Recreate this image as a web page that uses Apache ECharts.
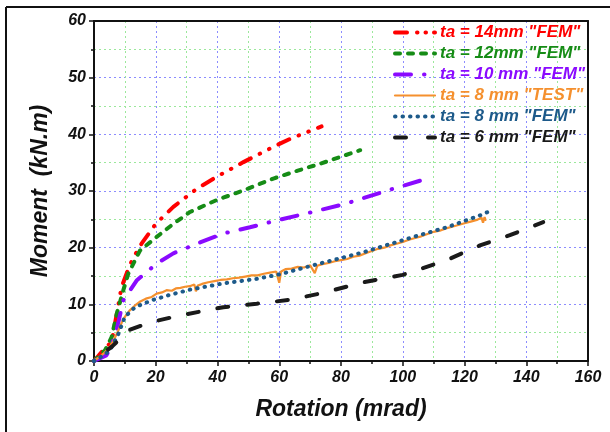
<!DOCTYPE html>
<html>
<head>
<meta charset="utf-8">
<script src="https://cdn.jsdelivr.net/npm/echarts@6/dist/echarts.min.js"></script>
<style>
  html, body { margin: 0; padding: 0; background: #fff; }
  #chart { width: 610px; height: 432px; }
</style>
</head>
<body>
<div id="chart"></div>
<script>
// data: [rotation (mrad), moment (kN.m)]
const ta14Fem = [[0,0],[3,1.9],[5.7,3.4],[7.4,8.4],[8.9,13],[10.6,15.5],[12.5,18],[15.4,20.7],[20,24.2],[25.7,27.2],[33.3,30.4],[39.7,32.5],[48.4,35.1],[58.1,37.8],[63.5,39.2],[73.7,41.4]];
const ta12Fem = [[0,0],[3.6,1.9],[5.7,4.2],[7.4,8.4],[9.5,12.5],[11.1,15.4],[14.9,19.5],[20.3,21.9],[25.7,24.2],[31.1,26.3],[39.7,28.4],[48.4,30.1],[58.1,32.2],[66,33.6],[73.2,34.8],[86.2,37.2]];
const ta10Fem = [[0,0],[4,1],[5.5,2.5],[7.3,5.4],[9.5,10.7],[13.8,14.2],[20.3,17.2],[25.7,19],[33.3,20.7],[41.9,22.5],[50.5,23.6],[59.2,24.8],[70,26.2],[81.8,27.8],[96.9,30.4],[106.7,32]];
const ta8Test = [[0,0],[2,0.8],[4,1.8],[5.2,2.5],[6.5,3.8],[7.9,5.4],[9,6.8],[10,7.8],[11.5,8.9],[13.3,9.8],[15,10.5],[16.8,11],[18.7,11.3],[20.3,11.9],[22,12.1],[23.5,12.5],[25.2,12.4],[26.5,12.8],[28,12.9],[29.5,13.1],[31,13.2],[32.5,13.5],[33,12.3],[33.6,13.3],[35,13.6],[37,13.9],[39,14.1],[41,14.3],[43,14.4],[45,14.6],[47,14.7],[49,14.9],[51,15.1],[53,15.1],[55,15.4],[57,15.6],[59,15.8],[60,13.8],[60.6,15.8],[62,16.2],[64,16.3],[66,16.6],[68,16.5],[70,16.9],[71.5,15.5],[72.3,16.8],[74,17.1],[76,17.3],[78,17.6],[80,17.8],[82,18],[84,18.4],[86,18.6],[88,19],[90,19.4],[92,19.8],[94,20],[96,20.4],[98,20.7],[100,21],[102,21.4],[104,21.7],[106,22],[108,22.4],[110,22.8],[112,23],[114,23.4],[116,23.7],[118,24],[120,24.3],[122,24.6],[124,24.9],[125.5,25.3],[126,24.4],[126.5,25.4],[126.8,24.9]];
const ta8Fem = [[0,0],[3,1],[5.2,1.9],[7.9,4.8],[10,7.8],[13.3,9.5],[18.7,10.7],[24.1,11.6],[31.1,12.6],[41.9,13.7],[52.7,14.5],[60.2,15.3],[71,16.9],[87.3,19.2],[103.5,21.9],[114.3,23.6],[125,25.7],[128,26.4]];
const ta6Fem = [[0,0],[1.4,0.7],[5.7,2.5],[9,4.2],[11.1,5.4],[18.7,6.9],[28.4,8.1],[41.9,9.5],[52.7,10.1],[63.5,10.8],[73.2,11.9],[87.3,13.9],[100,15.2],[114.2,17.8],[125,20.4],[134.7,22.2],[145.5,24.5]];

const seriesNames = ['ta = 14mm "FEM"', 'ta = 12mm "FEM"', 'ta = 10 mm "FEM"', 'ta = 8 mm "TEST"', 'ta = 8 mm "FEM"', 'ta = 6 mm "FEM"'];
const seriesData = [ta14Fem, ta12Fem, ta10Fem, ta8Test, ta8Fem, ta6Fem];
const seriesColors = ['#ff0000', '#168c16', '#8a0aff', '#f5902e', '#1d5a8a', '#1a1a1a'];
const seriesDash = [[12, 10, 0.5, 10, 0.5, 10], [5, 8], [16, 13, 0.5, 13], 'solid', [0.5, 7], [11, 19]];
const seriesDashOffset = [0, 0, 0, 0, 0, 12];
const legendDash = [[12, 10, 0.5, 8, 0.5, 8], [5, 8], [16, 13, 0.5, 13], 'solid', [0.5, 7], [11, 22]];
const seriesWidth = [4, 4, 4, 2.2, 4, 4];

const font = 'Arial, "Liberation Sans", sans-serif';

const chart = echarts.init(document.getElementById('chart'));

const series = seriesNames.map((name, i) => ({
  name,
  type: 'line',
  data: seriesData[i],
  symbol: 'none',
  lineStyle: {
    color: seriesColors[i],
    width: seriesWidth[i],
    type: seriesDash[i],
    dashOffset: seriesDashOffset[i],
    cap: 'round'
  },
  itemStyle: { color: seriesColors[i] }
}));

const labelStyle = { fontFamily: font, fontWeight: 'bold', fontStyle: 'italic', fontSize: 16, color: '#111' };
const nameStyle = { fontFamily: font, fontWeight: 'bold', fontStyle: 'italic', fontSize: 23, color: '#111' };
const frameLine = { show: true, onZero: false, lineStyle: { color: '#111', width: 2 } };
const dotted = (c) => ({ show: true, lineStyle: { color: c, width: 1, type: [2, 3] } });

chart.setOption({
  animation: false,
  grid: { left: 94, top: 21, right: 22, bottom: 71 },
  legend: {
    orient: 'vertical',
    left: 393,
    top: 24,
    padding: 0,
    itemWidth: 40,
    itemHeight: 14,
    itemGap: 4,
    itemStyle: { opacity: 0 },
    data: seriesNames.map((name, i) => ({
      name,
      textStyle: { color: seriesColors[i] },
      lineStyle: {
        color: seriesColors[i],
        width: seriesWidth[i],
        type: legendDash[i],
        dashOffset: 0,
        cap: 'round'
      }
    })),
    textStyle: { fontFamily: font, fontWeight: 'bold', fontStyle: 'italic', fontSize: 17 }
  },
  xAxis: [{
    type: 'value',
    min: 0, max: 160, interval: 20,
    name: 'Rotation (mrad)',
    nameLocation: 'middle',
    nameGap: 37,
    nameTextStyle: nameStyle,
    axisLine: frameLine,
    axisTick: { length: 5, lineStyle: { color: '#111', width: 1.5 } },
    minorTick: { show: true, splitNumber: 2, length: 3, lineStyle: { color: '#111', width: 1.5 } },
    axisLabel: Object.assign({ margin: 9 }, labelStyle),
    splitLine: dotted('#8c8cff'),
    minorSplitLine: dotted('#9be89b')
  }, {
    type: 'value', position: 'top',
    min: 0, max: 160, interval: 20,
    axisLine: frameLine, axisTick: { show: false }, axisLabel: { show: false }, splitLine: { show: false }
  }],
  yAxis: [{
    type: 'value',
    min: 0, max: 60, interval: 10,
    name: 'Moment  (kN.m)',
    nameLocation: 'middle',
    nameGap: 42,
    nameTextStyle: nameStyle,
    axisLine: frameLine,
    axisTick: { show: true, length: 5, lineStyle: { color: '#111', width: 1.5 } },
    minorTick: { show: true, splitNumber: 2, length: 3, lineStyle: { color: '#111', width: 1.5 } },
    axisLabel: Object.assign({ margin: 8 }, labelStyle),
    splitLine: dotted('#8c8cff'),
    minorSplitLine: dotted('#9be89b')
  }, {
    type: 'value', position: 'right',
    min: 0, max: 60, interval: 10,
    axisLine: frameLine, axisTick: { show: false }, axisLabel: { show: false }, splitLine: { show: false }
  }],
  graphic: [
    { type: 'line', shape: { x1: 6, y1: 7, x2: 610, y2: 7 }, style: { stroke: '#111', lineWidth: 2 } },
    { type: 'line', shape: { x1: 6, y1: 7, x2: 6, y2: 432 }, style: { stroke: '#111', lineWidth: 2 } }
  ],
  series
});
</script>
</body>
</html>
